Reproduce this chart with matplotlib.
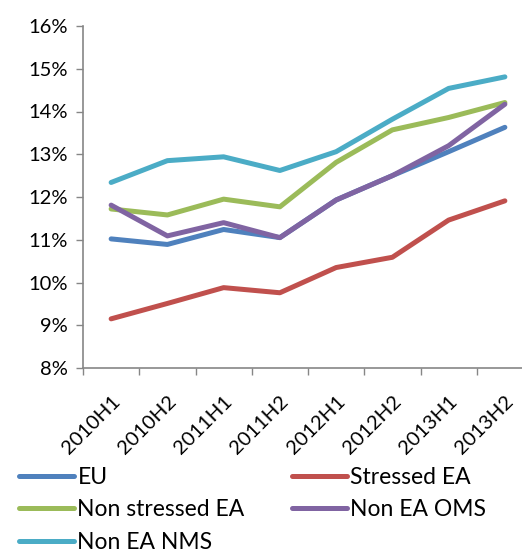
import numpy as np
import matplotlib
matplotlib.use('Agg')
from matplotlib import pyplot as plt
from matplotlib.ticker import FuncFormatter

periods = ['2010H1', '2010H2', '2011H1', '2011H2', '2012H1', '2012H2', '2013H1', '2013H2']

eu = [11.02, 10.89, 11.24, 11.05, 11.93, 12.50, 13.06, 13.63]
stressed_ea = [9.15, 9.51, 9.88, 9.76, 10.35, 10.59, 11.46, 11.91]
non_stressed_ea = [11.72, 11.58, 11.95, 11.77, 12.81, 13.57, 13.86, 14.21]
non_ea_oms = [11.81, 11.09, 11.40, 11.05, 11.93, 12.50, 13.20, 14.17]
non_ea_nms = [12.34, 12.85, 12.94, 12.62, 13.06, 13.82, 14.54, 14.81]

series = [
    ('EU', eu, '#4F81BD'),
    ('Stressed EA', stressed_ea, '#C0504D'),
    ('Non stressed EA', non_stressed_ea, '#9BBB59'),
    ('Non EA OMS', non_ea_oms, '#8064A2'),
    ('Non EA NMS', non_ea_nms, '#4BACC6'),
]

plt.rcParams['font.family'] = ['Lato', 'DejaVu Sans']
FS = 14.5
LEG_FS = 16.5
AXIS_GREY = '#868686'

fig = plt.figure(figsize=(5.22, 5.55), dpi=100)
# right edge runs past the figure, like the cropped original
ax = fig.add_axes([83 / 522, 1 - 368 / 555, 450 / 522, 342 / 555])

x = np.arange(len(periods))
lines = []
for name, vals, col in series:
    ln, = ax.plot(x, vals, color=col, lw=3.6, solid_capstyle='round', label=name)
    lines.append(ln)

ax.set_ylim(8, 16)
ax.set_yticks(np.arange(8, 17, 1))
ax.yaxis.set_major_formatter(FuncFormatter(lambda v, p: '{:.0f}%'.format(v)))
ax.set_xlim(-0.5, len(periods) - 0.5)

# category boundary ticks on x, labels centred on the points
ax.set_xticks(np.arange(-0.5, len(periods), 1))
ax.set_xticklabels([])
ax.set_xticks(x, minor=True)
ax.set_xticklabels(periods, minor=True, rotation=45, ha='right', va='top',
                   rotation_mode='anchor', fontsize=FS)
ax.tick_params(axis='x', which='minor', length=0, pad=18)
ax.tick_params(axis='x', which='major', length=5, width=1, color=AXIS_GREY, direction='out')
ax.tick_params(axis='y', length=5, width=1, color=AXIS_GREY, labelsize=FS, pad=6)

for side in ['top', 'right']:
    ax.spines[side].set_visible(False)
for side in ['left', 'bottom']:
    ax.spines[side].set_color(AXIS_GREY)
    ax.spines[side].set_linewidth(1.2)

order = [0, 2, 4, 1, 3]
fig.legend([lines[i] for i in order], [series[i][0] for i in order],
           loc='upper left', bbox_to_anchor=(19 / 522, 1 - 467 / 555), ncol=2,
           frameon=False, fontsize=LEG_FS, handlelength=2.4, handletextpad=0.15,
           columnspacing=2.05, labelspacing=0.5, borderpad=0, borderaxespad=0)

fig.savefig('out.png', dpi=100)
